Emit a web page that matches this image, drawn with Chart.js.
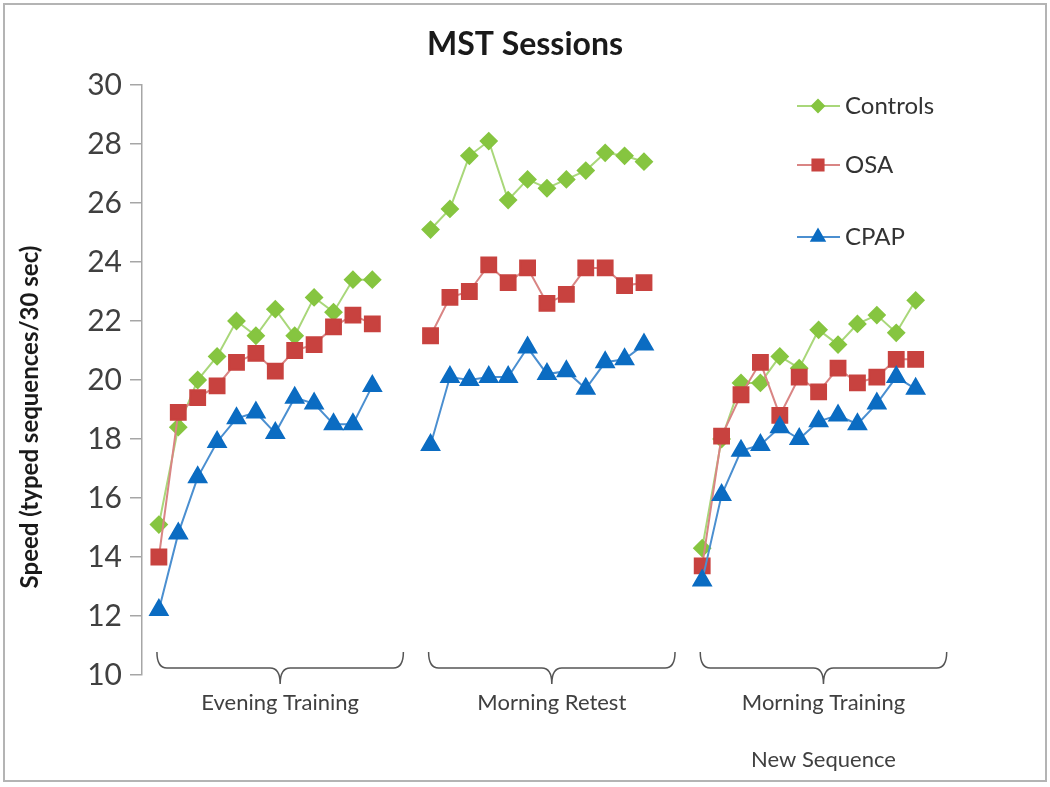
<!DOCTYPE html>
<html>
<head>
<meta charset="utf-8">
<title>MST Sessions</title>
<script src="https://cdn.jsdelivr.net/npm/chart.js@4/dist/chart.umd.min.js"></script>
<style>
  html, body { margin: 0; padding: 0; background: #fff; }
  #wrap { width: 1050px; height: 787px; position: relative; }
</style>
</head>
<body>
<div id="wrap"><canvas id="chart"></canvas></div>
<script>
// session groups, 12 trials each, 2 empty slots between groups
const sessions = ['Evening Training', 'Morning Retest', 'Morning Training'];
const sessionStart = [0, 14, 28];
const yTicks = [10, 12, 14, 16, 18, 20, 22, 24, 26, 28, 30];
const yTitle = 'Speed (typed sequences/30 sec)';

const controlsEvening = [15.1, 18.4, 20.0, 20.8, 22.0, 21.5, 22.4, 21.5, 22.8, 22.3, 23.4, 23.4];
const controlsRetest  = [25.1, 25.8, 27.6, 28.1, 26.1, 26.8, 26.5, 26.8, 27.1, 27.7, 27.6, 27.4];
const controlsNew     = [14.3, 18.0, 19.9, 19.9, 20.8, 20.4, 21.7, 21.2, 21.9, 22.2, 21.6, 22.7];

const osaEvening = [14.0, 18.9, 19.4, 19.8, 20.6, 20.9, 20.3, 21.0, 21.2, 21.8, 22.2, 21.9];
const osaRetest  = [21.5, 22.8, 23.0, 23.9, 23.3, 23.8, 22.6, 22.9, 23.8, 23.8, 23.2, 23.3];
const osaNew     = [13.7, 18.1, 19.5, 20.6, 18.8, 20.1, 19.6, 20.4, 19.9, 20.1, 20.7, 20.7];

const cpapEvening = [12.2, 14.8, 16.7, 17.9, 18.7, 18.9, 18.2, 19.4, 19.2, 18.5, 18.5, 19.8];
const cpapRetest  = [17.8, 20.1, 20.0, 20.1, 20.1, 21.1, 20.2, 20.3, 19.7, 20.6, 20.7, 21.2];
const cpapNew     = [13.2, 16.1, 17.6, 17.8, 18.4, 18.0, 18.6, 18.8, 18.5, 19.2, 20.1, 19.7];

const FONT = 'Lato, "Open Sans", sans-serif';
const TEXT = '#404040';

function toPoints(groups) {
    const pts = [];
    groups.forEach((vals, g) => {
        vals.forEach((v, i) => pts.push({ x: sessionStart[g] + i, y: v }));
        if (g < groups.length - 1) pts.push({ x: sessionStart[g] + vals.length, y: null });
    });
    return pts;
}

// frame round the whole picture, plus the y title (sits a bit low, as in the original)
const framePlugin = {
    id: 'frame',
    beforeDraw(chart) {
        const ctx = chart.ctx;
        ctx.save();
        ctx.fillStyle = '#fff';
        ctx.fillRect(0, 0, chart.width, chart.height);
        ctx.strokeStyle = '#b4b4b4';
        ctx.lineWidth = 2;
        ctx.strokeRect(4, 4, chart.width - 8, chart.height - 10);
        ctx.translate(30, 417);
        ctx.rotate(-Math.PI / 2);
        ctx.fillStyle = '#1a1a1a';
        ctx.font = 'bold 24px ' + FONT;
        ctx.textAlign = 'center';
        ctx.textBaseline = 'middle';
        ctx.fillText(yTitle, 0, 0);
        ctx.restore();
    }
};

// legend inside the plot, upper right
const insideLegend = {
    id: 'insideLegend',
    afterDraw(chart) {
        const ctx = chart.ctx;
        const rows = [106, 165, 237];
        ctx.save();
        chart.data.datasets.forEach((ds, i) => {
            const y = rows[i];
            ctx.strokeStyle = ds.borderColor;
            ctx.lineWidth = 2;
            ctx.beginPath();
            ctx.moveTo(797, y);
            ctx.lineTo(840, y);
            ctx.stroke();
            ctx.fillStyle = ds.pointBackgroundColor;
            ctx.strokeStyle = ds.pointBorderColor;
            Chart.helpers.drawPoint(ctx, {
                pointStyle: ds.pointStyle,
                radius: ds.pointRadius * 0.75,
                rotation: 0,
                borderWidth: 1
            }, 818, y);
            ctx.fillStyle = '#333';
            ctx.font = '24px ' + FONT;
            ctx.textAlign = 'left';
            ctx.textBaseline = 'middle';
            ctx.fillText(ds.label, 845, y);
        });
        ctx.restore();
    }
};

// curly braces and session names under the plot
const bracesPlugin = {
    id: 'braces',
    afterDraw(chart) {
        const ctx = chart.ctx;
        const x = chart.scales.x;
        const top = 652, mid = 668, tip = 684;
        ctx.save();
        ctx.strokeStyle = '#555';
        ctx.lineWidth = 1.5;
        sessions.forEach((name, g) => {
            const x0 = x.getPixelForValue(sessionStart[g] - 0.1);
            const x1 = x.getPixelForValue(sessionStart[g] + 11 + 1.6);
            const cx = (x0 + x1) / 2;
            const r = 10;
            ctx.beginPath();
            ctx.moveTo(x0, top);
            ctx.quadraticCurveTo(x0, mid, x0 + r, mid);
            ctx.lineTo(cx - r, mid);
            ctx.quadraticCurveTo(cx, mid, cx, tip);
            ctx.quadraticCurveTo(cx, mid, cx + r, mid);
            ctx.lineTo(x1 - r, mid);
            ctx.quadraticCurveTo(x1, mid, x1, top);
            ctx.stroke();
            ctx.fillStyle = TEXT;
            ctx.font = '22px ' + FONT;
            ctx.textAlign = 'center';
            ctx.textBaseline = 'middle';
            ctx.fillText(name, cx, 703);
            if (g === 2) ctx.fillText('New Sequence', cx, 760);
        });
        ctx.restore();
    }
};

const ctx = document.getElementById('chart').getContext('2d');
new Chart(ctx, {
    type: 'line',
    data: {
        datasets: [
            {
                label: 'Controls',
                data: toPoints([controlsEvening, controlsRetest, controlsNew]),
                borderColor: '#a9d77a',
                pointBackgroundColor: '#86c540',
                pointBorderColor: '#86c540',
                pointStyle: 'rectRot',
                pointRadius: 8,
                borderWidth: 2,
                order: 3
            },
            {
                label: 'OSA',
                data: toPoints([osaEvening, osaRetest, osaNew]),
                borderColor: '#d98584',
                pointBackgroundColor: '#c8423f',
                pointBorderColor: '#c8423f',
                pointStyle: 'rect',
                pointRadius: 10.5,
                borderWidth: 2,
                order: 2
            },
            {
                label: 'CPAP',
                data: toPoints([cpapEvening, cpapRetest, cpapNew]),
                borderColor: '#4b8fd0',
                pointBackgroundColor: '#0b6cc2',
                pointBorderColor: '#0b6cc2',
                pointStyle: 'triangle',
                pointRadius: 10,
                borderWidth: 2,
                order: 1
            }
        ]
    },
    options: {
        responsive: true,
        maintainAspectRatio: false,
        animation: false,
        spanGaps: false,
        layout: { padding: { left: 4, right: 4, top: 4, bottom: 112 } },
        plugins: {
            legend: { display: false },
            tooltip: { enabled: false },
            title: {
                display: true,
                text: 'MST Sessions',
                color: '#1a1a1a',
                font: { family: FONT, size: 32, weight: 'bold' },
                padding: { top: 21, bottom: 21.6 }
            }
        },
        scales: {
            x: {
                type: 'linear',
                display: false,
                min: -0.87,
                max: 45.28
            },
            y: {
                min: 10,
                max: 30,
                afterBuildTicks(scale) {
                    scale.ticks = yTicks.map(v => ({ value: v }));
                },
                afterFit(scale) {
                    scale.width = 138;
                },
                ticks: {
                    color: TEXT,
                    font: { family: FONT, size: 30 },
                    padding: 8
                },
                grid: {
                    drawOnChartArea: false,
                    drawTicks: true,
                    tickLength: 12,
                    color: '#a6a6a6',
                    lineWidth: 1.5
                },
                border: { color: '#a6a6a6', width: 1.5 }
            }
        }
    },
    plugins: [framePlugin, insideLegend, bracesPlugin]
});
</script>
</body>
</html>
